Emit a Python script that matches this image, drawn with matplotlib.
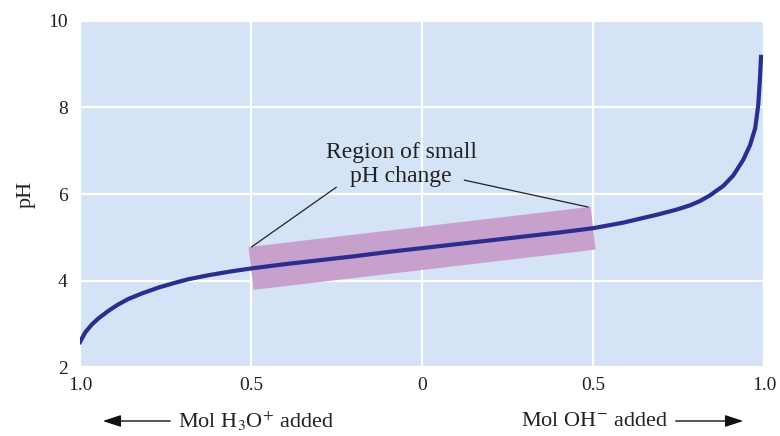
import matplotlib
matplotlib.use("Agg")
import matplotlib.pyplot as plt
from matplotlib.patches import FancyArrowPatch

# curve: mol added (H3O+ negative, OH- positive) vs pH
mol_added = [-1.0, -0.985, -0.966, -0.947, -0.917, -0.89, -0.86, -0.82, -0.77,
             -0.722, -0.684, -0.62, -0.56, -0.5, -0.4, -0.3, -0.2, -0.1, 0.0,
             0.1, 0.2, 0.3, 0.4, 0.5, 0.589, 0.686, 0.74, 0.784, 0.813, 0.842,
             0.881, 0.91, 0.939, 0.959, 0.974, 0.983, 0.988, 0.991]
ph = [2.58, 2.80, 2.98, 3.12, 3.30, 3.44, 3.57, 3.70, 3.84,
      3.95, 4.03, 4.13, 4.21, 4.28, 4.38, 4.47, 4.56, 4.66, 4.75,
      4.84, 4.93, 5.02, 5.11, 5.21, 5.34, 5.52, 5.63, 5.74, 5.84, 5.97,
      6.19, 6.43, 6.79, 7.13, 7.52, 8.06, 8.68, 9.17]

# buffer region band
band_x = [-0.5, 0.5]
band_ph = [4.28, 5.21]

xticks = [-1.0, -0.5, 0.0, 0.5, 1.0]
xticklabels = ["1.0", "0.5", "0", "0.5", "1.0"]
yticks = [2, 4, 6, 8, 10]

plt.rcParams['font.family'] = ['Liberation Serif', 'DejaVu Serif']
plt.rcParams['mathtext.fontset'] = 'stix'

fig = plt.figure(figsize=(7.8, 4.36), dpi=100)
ax = fig.add_axes([0.1026, 0.158, 0.877, 0.794])
ax.set_facecolor('#D4E3F5')

ax.plot(band_x, band_ph, color='#C8A0CC', lw=31, solid_capstyle='butt', zorder=2)
ax.plot(mol_added, ph, color='#2B2E8E', lw=3, zorder=3)

ax.set_xlim(-1, 1)
ax.set_ylim(2, 10)
ax.set_xticks(xticks)
ax.set_xticklabels(xticklabels)
ax.set_yticks(yticks)
ax.grid(True, color='white', lw=1.6)
ax.set_axisbelow(True)
for s in ax.spines.values():
    s.set_visible(False)
ax.tick_params(length=0, labelsize=14, colors='#222222')
ax.tick_params(axis='y', pad=9)
ax.tick_params(axis='x', pad=7)
ax.set_ylabel("pH", fontsize=16, color='#222222', labelpad=9)

# annotation with two leader lines
ax.text(-0.061, 6.68, "Region of small\npH change", ha='center', va='center',
        fontsize=17, color='#222222', linespacing=1.2)
ax.plot([-0.251, -0.498], [6.155, 4.78], color='#222222', lw=0.9)
ax.plot([0.124, 0.485], [6.32, 5.70], color='#222222', lw=0.9)

# bottom direction labels with arrows
ya = 1 - 421 / 436
fig.text(178 / 780, ya, "Mol H$_3$O$^{+}$ added", ha='left', va='center',
         fontsize=16, color='#222222')
fig.text(668 / 780, ya, "Mol OH$^{-}$ added", ha='right', va='center',
         fontsize=16, color='#222222')
arr = dict(arrowstyle='-|>,head_length=0.85,head_width=0.28', color='#111111', lw=1.0)
fig.add_artist(FancyArrowPatch((173 / 780, ya), (100 / 780, ya),
                               transform=fig.transFigure, mutation_scale=13, **arr))
fig.add_artist(FancyArrowPatch((673 / 780, ya), (746 / 780, ya),
                               transform=fig.transFigure, mutation_scale=13, **arr))

fig.savefig("out.png", dpi=100)
